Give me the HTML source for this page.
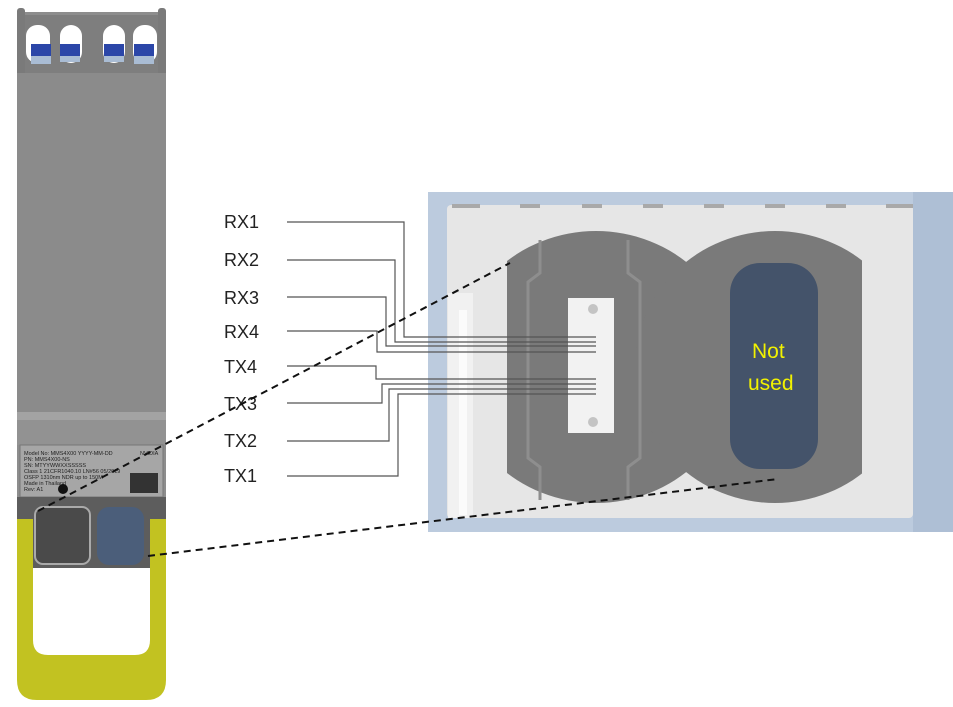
<!DOCTYPE html>
<html><head><meta charset="utf-8"><style>
html,body{margin:0;padding:0;background:#fff;}
svg{display:block;}
</style></head><body>
<svg width="953" height="707" viewBox="0 0 953 707" xmlns="http://www.w3.org/2000/svg">
<defs>
<clipPath id="cl"><rect x="507" y="225" width="355" height="285"/></clipPath>
</defs>
<!-- module body -->
<rect x="17" y="12" width="149" height="490" fill="#8d8d8d"/>
<rect x="17" y="8" width="8" height="70" rx="3" fill="#7a7a7a"/>
<rect x="158" y="8" width="8" height="70" rx="3" fill="#7a7a7a"/>
<rect x="25" y="15" width="133" height="58" fill="#7e7e7e"/>
<g fill="#fff">
<rect x="26" y="25" width="24" height="38" rx="11"/>
<rect x="60" y="25" width="22" height="38" rx="11"/>
<rect x="103" y="25" width="22" height="38" rx="11"/>
<rect x="133" y="25" width="24" height="38" rx="11"/>
</g>
<g fill="#2b46a8">
<rect x="31" y="44" width="20" height="12"/><rect x="60" y="44" width="20" height="12"/>
<rect x="104" y="44" width="20" height="12"/><rect x="134" y="44" width="20" height="12"/>
</g>
<g fill="#a9bcd4">
<rect x="31" y="56" width="20" height="8"/><rect x="60" y="56" width="20" height="6"/>
<rect x="104" y="56" width="20" height="6"/><rect x="134" y="56" width="20" height="8"/>
</g>
<rect x="17" y="73" width="149" height="340" fill="#8b8b8b"/>
<rect x="17" y="412" width="149" height="8" fill="#a3a3a3"/>
<rect x="17" y="420" width="149" height="25" fill="#929292"/>
<rect x="20" y="445" width="143" height="52" fill="#a6a6a6" stroke="#777" stroke-width="1"/>
<g font-family="Liberation Sans, sans-serif" font-size="5.5" fill="#222">
<text x="24" y="455">Model No: MMS4X00  YYYY-MM-DD</text>
<text x="140" y="455">NVIDIA</text>
<text x="24" y="461">PN: MMS4X00-NS</text>
<text x="24" y="467">SN: MTYYWWXXSSSSS</text>
<text x="24" y="473">Class 1 21CFR1040.10 LN#56 05/2019</text>
<text x="24" y="479">OSFP 1310nm NDR up to 150M</text>
<text x="24" y="485">Made in Thailand</text>
<text x="24" y="491">Rev: A1</text>
</g>
<circle cx="63" cy="489" r="5" fill="#111"/>
<rect x="130" y="473" width="28" height="20" fill="#333"/>
<rect x="17" y="497" width="149" height="71" fill="#5d5d5d"/>
<rect x="35" y="507" width="55" height="57" rx="8" fill="#4a4a4a" stroke="#aaa" stroke-width="2"/>
<rect x="97" y="507" width="47" height="58" rx="12" fill="#4b5e7a"/>
<!-- handle -->
<path d="M17 519 H33 V640 Q33 655 48 655 H135 Q150 655 150 640 V519 H166 V680 Q166 700 146 700 H37 Q17 700 17 680 Z" fill="#c2c221"/>
<!-- right panel -->
<rect x="428" y="192" width="525" height="340" fill="#bccbde"/>
<rect x="913" y="192" width="40" height="340" fill="#aebfd5"/>
<rect x="447" y="205" width="466" height="313" rx="4" fill="#e6e6e6"/>
<g fill="#a9a9a9"><rect x="452" y="204" width="28" height="4"/><rect x="520" y="204" width="20" height="4"/><rect x="582" y="204" width="20" height="4"/><rect x="643" y="204" width="20" height="4"/><rect x="704" y="204" width="20" height="4"/><rect x="765" y="204" width="20" height="4"/><rect x="826" y="204" width="20" height="4"/><rect x="886" y="204" width="27" height="4"/></g>
<rect x="448" y="293" width="25" height="225" fill="#f1f1f1"/>
<rect x="459" y="310" width="8" height="205" fill="#fbfbfb"/>
<g clip-path="url(#cl)" fill="#7a7a7a">
<ellipse cx="596" cy="367" rx="142" ry="136"/>
<ellipse cx="775" cy="367" rx="140" ry="136"/>
</g>
<path d="M540 240 V273 L528 282 V458 L540 467 V500 M628 240 V273 L640 282 V458 L628 467 V500" stroke="#8e8e8e" stroke-width="3" fill="none"/>
<rect x="568" y="298" width="46" height="135" fill="#f2f2f2"/>
<circle cx="593" cy="309" r="5" fill="#c4c4c4"/>
<circle cx="593" cy="422" r="5" fill="#c4c4c4"/>
<rect x="730" y="263" width="88" height="206" rx="30" fill="#44536a"/>
<g font-family="Liberation Sans, sans-serif" font-size="21" fill="#f2f200">
<text x="752" y="358">Not</text>
<text x="748" y="390">used</text>
</g>
<!-- channel lines -->
<g stroke="#555" stroke-width="1.2" fill="none">
<polyline points="287,222 404,222 404,337 596,337"/>
<polyline points="287,260 395,260 395,342 596,342"/>
<polyline points="287,297 386,297 386,346 596,346"/>
<polyline points="287,331 377,331 377,352 596,352"/>
<polyline points="287,366 376,366 376,379 596,379"/>
<polyline points="287,403 382,403 382,384 596,384"/>
<polyline points="287,441 389,441 389,389 596,389"/>
<polyline points="287,476 398,476 398,394 596,394"/>
</g>
<g font-family="Liberation Sans, sans-serif" font-size="18" fill="#222">
<text x="224" y="228">RX1</text>
<text x="224" y="266">RX2</text>
<text x="224" y="304">RX3</text>
<text x="224" y="338">RX4</text>
<text x="224" y="373">TX4</text>
<text x="224" y="410">TX3</text>
<text x="224" y="447">TX2</text>
<text x="224" y="482">TX1</text>
</g>
<!-- dashed zoom lines -->
<g stroke="#111" stroke-width="2" stroke-dasharray="7,5" fill="none">
<line x1="38" y1="511" x2="510" y2="263"/>
<line x1="148" y1="556" x2="778" y2="479"/>
</g>
</svg>
</body></html>
